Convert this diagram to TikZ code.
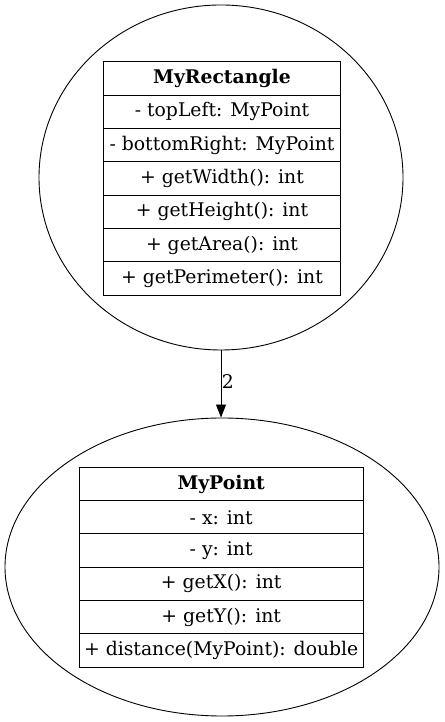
\documentclass[tikz,border=0pt]{standalone}
\usepackage{fontspec}
\setmainfont{DejaVu Serif}
\usetikzlibrary{shapes.geometric,arrows.meta}
\begin{document}
\begin{tikzpicture}[x=1pt,y=1pt,
  ell/.style={draw,ellipse,line width=0.9pt,inner sep=0pt},
  rowA/.style={draw,rectangle,line width=0.9pt,minimum width=237.4pt,minimum height=33.3pt,inner sep=0pt,font=\fontsize{18.8}{21}\selectfont},
  rowB/.style={draw,rectangle,line width=0.9pt,minimum width=284.3pt,minimum height=33.3pt,inner sep=0pt,font=\fontsize{18.8}{21}\selectfont},
  conn/.style={line width=0.9pt,-{Triangle[length=13pt,width=10pt]}},
  lbl/.style={font=\fontsize{18.8}{21}\selectfont,inner sep=1pt}]
\useasboundingbox (0,0) rectangle (444,722);
\node[ell,minimum width=364pt,minimum height=345pt] (e1) at (221,544.5) {};
\node[ell,minimum width=434pt,minimum height=298pt] (e2) at (222,155) {};
% MyRectangle table
\node[rowA] (r1) at (222,722-78.6) {\textbf{MyRectangle}};
\node[rowA] (r2) at (222,722-111.9) {- topLeft: MyPoint};
\node[rowA] (r3) at (222,722-145.2) {- bottomRight: MyPoint};
\node[rowA] (r4) at (222,722-178.5) {+ getWidth(): int};
\node[rowA] (r5) at (222,722-211.8) {+ getHeight(): int};
\node[rowA] (r6) at (222,722-245.1) {+ getArea(): int};
\node[rowA] (r7) at (222,722-278.4) {+ getPerimeter(): int};
% MyPoint table
\node[rowB] (p1) at (221.2,722-484) {\textbf{MyPoint}};
\node[rowB] (p2) at (221.2,722-517.3) {- x: int};
\node[rowB] (p3) at (221.2,722-550.6) {- y: int};
\node[rowB] (p4) at (221.2,722-583.9) {+ getX(): int};
\node[rowB] (p5) at (221.2,722-617.2) {+ getY(): int};
\node[rowB] (p6) at (221.2,722-650.5) {+ distance(MyPoint): double};
\draw[conn] (e1.south) -- (e1.south |- e2.north) node[lbl,right,pos=0.47,inner sep=0.5pt] {2};
\end{tikzpicture}
\end{document}
